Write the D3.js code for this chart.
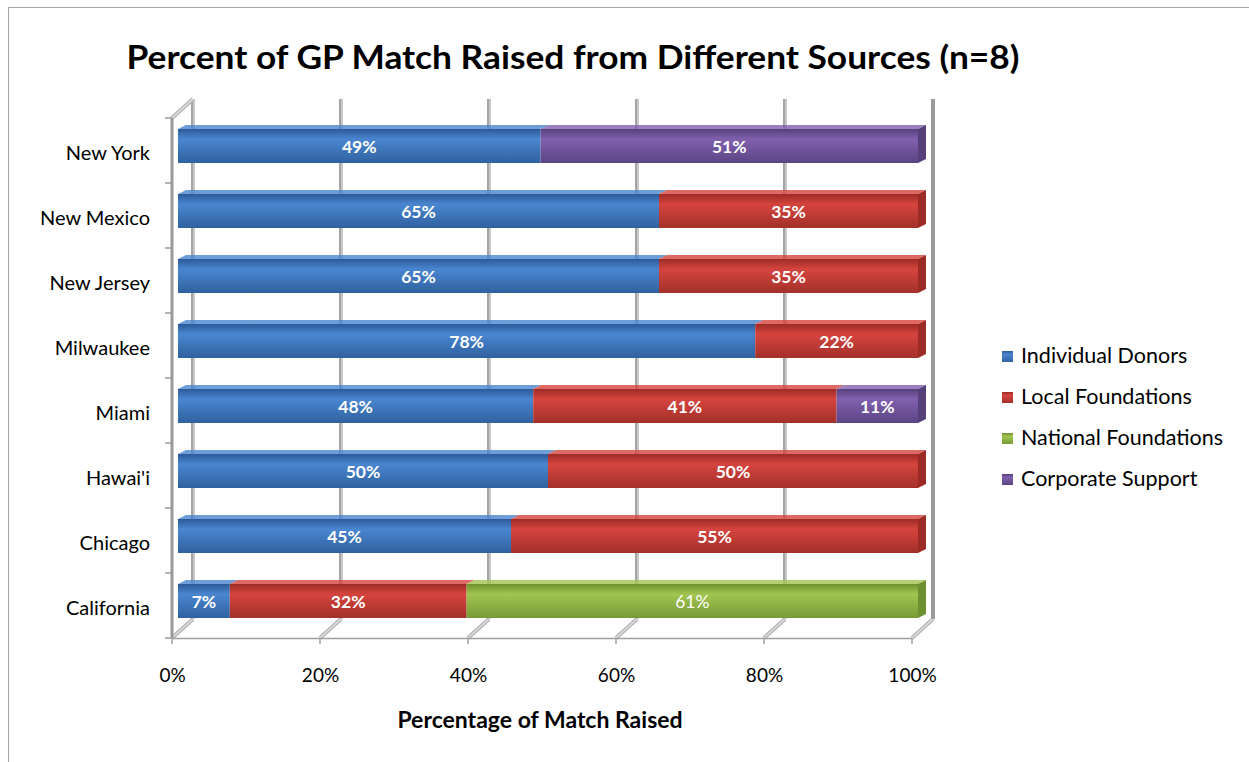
<!DOCTYPE html>
<html>
<head>
<meta charset="utf-8">
<script src="https://cdn.jsdelivr.net/npm/d3@7"></script>
<style>
  body { margin: 0; background: #fff; }
  text { font-family: Lato, "Open Sans", sans-serif; }
</style>
</head>
<body>
<div id="chart"></div>
<script>
// data (percent of match)
const cities = ["New York", "New Mexico", "New Jersey", "Milwaukee", "Miami", "Hawai'i", "Chicago", "California"];
const sources = ["Individual Donors", "Local Foundations", "National Foundations", "Corporate Support"];
const individual = [49, 65, 65, 78, 48, 50, 45, 7];
const local = [0, 35, 35, 22, 41, 50, 55, 32];
const national = [0, 0, 0, 0, 0, 0, 0, 61];
const corporate = [51, 0, 0, 0, 11, 0, 0, 0];
const xTicks = [0, 20, 40, 60, 80, 100];

const data = cities.map((c, i) => ({
  city: c,
  "Individual Donors": individual[i],
  "Local Foundations": local[i],
  "National Foundations": national[i],
  "Corporate Support": corporate[i]
}));

const width = 1249, height = 762;
const depth = { dx: 21, dy: -19 };   // wall depth offset
const barOff = { dx: 6, dy: -6 };    // bar front face offset into the depth
const barDepth = { dx: 8, dy: -4 };  // bar thickness drawn as top/side faces

const colors = {
  "Individual Donors": ["#2c5a99", "#4a86d0", "#2f619f"],
  "Local Foundations": ["#9c2b26", "#d6443e", "#a3302a"],
  "National Foundations": ["#6f9030", "#a2c450", "#779a36"],
  "Corporate Support": ["#56407c", "#8160ae", "#5b4484"]
};

const x = d3.scaleLinear().domain([0, 100]).range([172, 912]);
const y = d3.scaleBand().domain(cities).range([118, 638]);

const svg = d3.select("#chart").append("svg")
  .attr("width", width).attr("height", height);

const defs = svg.append("defs");
sources.forEach((s, i) => {
  const g = defs.append("linearGradient").attr("id", "grad" + i)
    .attr("x1", 0).attr("y1", 0).attr("x2", 0).attr("y2", 1);
  g.append("stop").attr("offset", "0%").attr("stop-color", colors[s][0]);
  g.append("stop").attr("offset", "30%").attr("stop-color", colors[s][1]);
  g.append("stop").attr("offset", "100%").attr("stop-color", colors[s][2]);
});

// outer frame
svg.append("rect").attr("x", 8.5).attr("y", 7.5)
  .attr("width", 1300).attr("height", 800)
  .attr("fill", "none").attr("stroke", "#a6a6a6");

// title
svg.append("text").attr("x", 573).attr("y", 69)
  .attr("text-anchor", "middle").attr("font-size", 32).attr("font-weight", "bold")
  .attr("textLength", 893).attr("lengthAdjust", "spacingAndGlyphs")
  .text("Percent of GP Match Raised from Different Sources (n=8)");

const yTop = y.range()[0], yBottom = y.range()[1];

// back wall gridlines
const grid = svg.append("g");
xTicks.forEach(t => {
  const bx = x(t) + depth.dx;
  grid.append("line")
    .attr("x1", bx).attr("x2", bx)
    .attr("y1", yTop + depth.dy).attr("y2", yBottom + depth.dy)
    .attr("stroke", "#a3a3a3").attr("stroke-width", 4);
  grid.append("line")
    .attr("x1", bx + 1).attr("x2", bx + 1)
    .attr("y1", yTop + depth.dy).attr("y2", yBottom + depth.dy)
    .attr("stroke", "#d4d4d4").attr("stroke-width", 1.5);
  // floor diagonal
  grid.append("line")
    .attr("x1", x(t)).attr("y1", yBottom)
    .attr("x2", bx).attr("y2", yBottom + depth.dy)
    .attr("stroke", "#b5b5b5").attr("stroke-width", 4);
  grid.append("line")
    .attr("x1", x(t)).attr("y1", yBottom)
    .attr("x2", bx).attr("y2", yBottom + depth.dy)
    .attr("stroke", "#dedede").attr("stroke-width", 1.5);
});

// left wall top diagonal
svg.append("line")
  .attr("x1", x(0)).attr("y1", yTop).attr("x2", x(0) + depth.dx).attr("y2", yTop + depth.dy)
  .attr("stroke", "#b5b5b5").attr("stroke-width", 4);
svg.append("line")
  .attr("x1", x(0)).attr("y1", yTop).attr("x2", x(0) + depth.dx).attr("y2", yTop + depth.dy)
  .attr("stroke", "#e0e0e0").attr("stroke-width", 1.5);

// left axis (front plane)
svg.append("line").attr("x1", x(0)).attr("x2", x(0))
  .attr("y1", yTop).attr("y2", yBottom)
  .attr("stroke", "#9a9a9a").attr("stroke-width", 3);
const yAxis = d3.axisLeft(y).tickSize(0).tickPadding(22);
const yg = svg.append("g").attr("transform", `translate(${x(0)},3)`).call(yAxis);
yg.select(".domain").remove();
yg.selectAll("text").attr("font-size", 20).attr("fill", "#000")
  .style("font-family", "Lato, sans-serif");
svg.append("g").selectAll("line")
  .data(cities.concat(["_end"]))
  .join("line")
  .attr("x1", x(0) - 7).attr("x2", x(0))
  .attr("y1", (d, i) => yTop + i * y.step()).attr("y2", (d, i) => yTop + i * y.step())
  .attr("stroke", "#9a9a9a").attr("stroke-width", 1.5);

// floor front line + x axis
const xAxis = d3.axisBottom(x).tickValues(xTicks).tickSize(0).tickPadding(31)
  .tickFormat(d => d + "%");
const xg = svg.append("g").attr("transform", `translate(0,${yBottom})`).call(xAxis);
xg.select(".domain").attr("stroke", "#a0a0a0").attr("stroke-width", 1.5);
xg.selectAll("text").attr("font-size", 19).attr("fill", "#000")
  .style("font-family", "Lato, sans-serif");
xg.selectAll(".tick line").remove();
xTicks.forEach(t => {
  svg.append("line").attr("x1", x(t)).attr("x2", x(t))
    .attr("y1", yBottom).attr("y2", yBottom + 6)
    .attr("stroke", "#a0a0a0").attr("stroke-width", 1.5);
});

// stacked bars
const stacked = d3.stack().keys(sources)(data);
const barTop = 11, barH = 34;

const layers = svg.append("g").selectAll("g")
  .data(stacked)
  .join("g");

layers.each(function (layer, li) {
  const g = d3.select(this);
  layer.forEach(seg => {
    if (seg[1] - seg[0] <= 0) return;
    const x0 = x(seg[0]) + barOff.dx, x1 = x(seg[1]) + barOff.dx;
    const y0 = y(seg.data.city) + barTop, y1 = y0 + barH;
    // top face
    g.append("path")
      .attr("d", `M${x0},${y0}L${x0 + barDepth.dx},${y0 + barDepth.dy}L${x1 + barDepth.dx},${y0 + barDepth.dy}L${x1},${y0}Z`)
      .attr("fill", colors[layer.key][1]).attr("opacity", 0.8);
    // side face (only visible at the bar end)
    if (seg[1] >= 99.5) {
      g.append("path")
        .attr("d", `M${x1},${y0}L${x1 + barDepth.dx},${y0 + barDepth.dy}L${x1 + barDepth.dx},${y1 + barDepth.dy}L${x1},${y1}Z`)
        .attr("fill", colors[layer.key][0]);
    }
    g.append("rect")
      .attr("x", x0).attr("y", y0)
      .attr("width", x1 - x0).attr("height", barH)
      .attr("fill", `url(#grad${li})`);
    g.append("text")
      .attr("x", (x0 + x1) / 2).attr("y", y0 + barH / 2 + 3)
      .attr("text-anchor", "middle").attr("dominant-baseline", "middle")
      .attr("fill", "#fff").attr("font-size", 17.5)
      .attr("font-weight", layer.key === "National Foundations" ? "normal" : "bold")
      .text(seg[1] - seg[0] + "%");
  });
});

// right wall
svg.append("line")
  .attr("x1", x(100) + depth.dx).attr("x2", x(100) + depth.dx)
  .attr("y1", yTop + depth.dy).attr("y2", yBottom + depth.dy)
  .attr("stroke", "#9a9a9a").attr("stroke-width", 4);

// x axis title
svg.append("text").attr("x", 540).attr("y", 728)
  .attr("text-anchor", "middle").attr("font-size", 23).attr("font-weight", "bold")
  .text("Percentage of Match Raised");

// legend
const legend = svg.append("g").selectAll("g")
  .data(sources)
  .join("g")
  .attr("transform", (d, i) => `translate(1002,${357 + i * 41})`);
legend.append("rect").attr("x", 0).attr("y", -6).attr("width", 11).attr("height", 11)
  .attr("fill", (d, i) => `url(#grad${i})`);
legend.append("text").attr("x", 19).attr("y", 1)
  .attr("dominant-baseline", "middle").attr("font-size", 21.5)
  .text(d => d);
</script>
</body>
</html>
